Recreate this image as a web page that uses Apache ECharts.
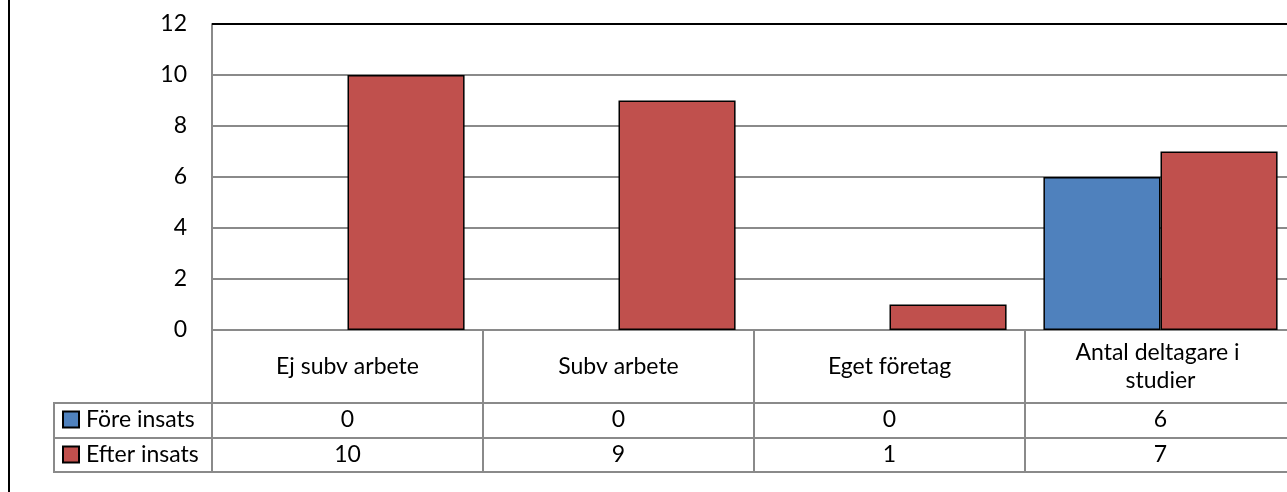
<!DOCTYPE html>
<html>
<head>
<meta charset="utf-8">
<title>Före / efter insats</title>
<style>
  html, body { margin: 0; padding: 0; background: #fff; }
  #main { width: 1287px; height: 492px; }
</style>
</head>
<body>
<div id="main"></div>
<script src="https://cdn.jsdelivr.net/npm/echarts@6/dist/echarts.min.js"></script>
<script>
var categories = ['Ej subv arbete', 'Subv arbete', 'Eget företag', 'Antal deltagare i studier'];
var seriesNames = ['Före insats', 'Efter insats'];
var fore = [0, 0, 0, 6];
var efter = [10, 9, 1, 7];
var yTicks = [0, 2, 4, 6, 8, 10, 12];

var font = 'Lato, Carlito, Calibri, sans-serif';
var fontSize = 23;
var lineGray = '#8a8a8a';

var chart = echarts.init(document.getElementById('main'));

// rows of the data table are drawn as extra category axes pushed down with offset
function tableAxis(offset, values) {
  return {
    type: 'category',
    data: categories,
    position: 'bottom',
    offset: offset,
    axisLine: { show: true, lineStyle: { color: lineGray, width: 2 } },
    axisTick: { show: false },
    axisLabel: {
      show: !!values,
      margin: 17,
      verticalAlign: 'middle',
      fontFamily: font,
      fontSize: fontSize,
      color: '#000',
      formatter: function (v, i) { return values ? String(values[i]) : ''; }
    },
    splitLine: { show: false },
    splitArea: { show: false }
  };
}

// zero bars would still show their outline, so drop the border there
function barData(values) {
  return values.map(function (v) {
    return v === 0 ? { value: v, itemStyle: { borderWidth: 0 } } : v;
  });
}

var option = {
  animation: false,
  textStyle: { fontFamily: font },
  grid: {
    left: 212, top: 24, bottom: 162, width: 1084,
    outerBoundsMode: 'none',
    containLabel: false,
    show: false
  },
  legend: {
    data: seriesNames,
    orient: 'vertical',
    left: 62, top: 408,
    padding: 0,
    icon: 'rect',
    itemWidth: 16, itemHeight: 16,
    itemGap: 12,
    selectedMode: false,
    textStyle: { fontFamily: font, fontSize: fontSize, color: '#000', lineHeight: 23, padding: [0, 0, 0, 2] }
  },
  xAxis: [
    {
      type: 'category',
      data: categories,
      position: 'bottom',
      axisLine: { show: true, lineStyle: { color: lineGray, width: 2 } },
      axisTick: { show: true, length: 142, lineStyle: { color: lineGray, width: 2 } },
      axisLabel: {
        margin: 37,
        verticalAlign: 'middle',
        fontFamily: font,
        fontSize: fontSize,
        lineHeight: 28,
        color: '#000',
        width: 230,
        overflow: 'break',
        interval: 0
      },
      splitLine: { show: false },
      splitArea: { show: false }
    },
    tableAxis(73, fore),
    tableAxis(108, efter),
    tableAxis(142, null)
  ],
  yAxis: {
    type: 'value',
    min: yTicks[0],
    max: yTicks[yTicks.length - 1],
    interval: yTicks[1] - yTicks[0],
    axisLine: { show: true, lineStyle: { color: lineGray, width: 2 } },
    axisTick: { show: false },
    axisLabel: { margin: 25, fontFamily: font, fontSize: fontSize, color: '#000' },
    splitLine: { lineStyle: { color: lineGray, width: 2 } }
  },
  series: [
    {
      name: seriesNames[0],
      type: 'bar',
      data: barData(fore),
      barGap: '0%',
      barCategoryGap: '13.6%',
      itemStyle: { color: '#4F81BD', borderColor: '#000', borderWidth: 1.5 }
    },
    {
      name: seriesNames[1],
      type: 'bar',
      data: barData(efter),
      barGap: '0%',
      barCategoryGap: '13.6%',
      itemStyle: { color: '#C0504D', borderColor: '#000', borderWidth: 1.5 }
    }
  ],
  graphic: [
    // outer frame of the chart area on the left
    { type: 'line', z: 100, shape: { x1: 9, y1: 0, x2: 9, y2: 492 }, style: { stroke: '#000', lineWidth: 2 } },
    // black top edge of the plot area
    { type: 'line', z: 100, shape: { x1: 212, y1: 24, x2: 1287, y2: 24 }, style: { stroke: '#000', lineWidth: 2 } },
    // legend column of the data table
    { type: 'polyline', shape: { points: [[212, 403], [54, 403], [54, 472], [212, 472]] }, style: { stroke: lineGray, lineWidth: 2, fill: null } },
    { type: 'line', shape: { x1: 54, y1: 438, x2: 212, y2: 438 }, style: { stroke: lineGray, lineWidth: 2 } }
  ]
};

chart.setOption(option);
</script>
</body>
</html>
